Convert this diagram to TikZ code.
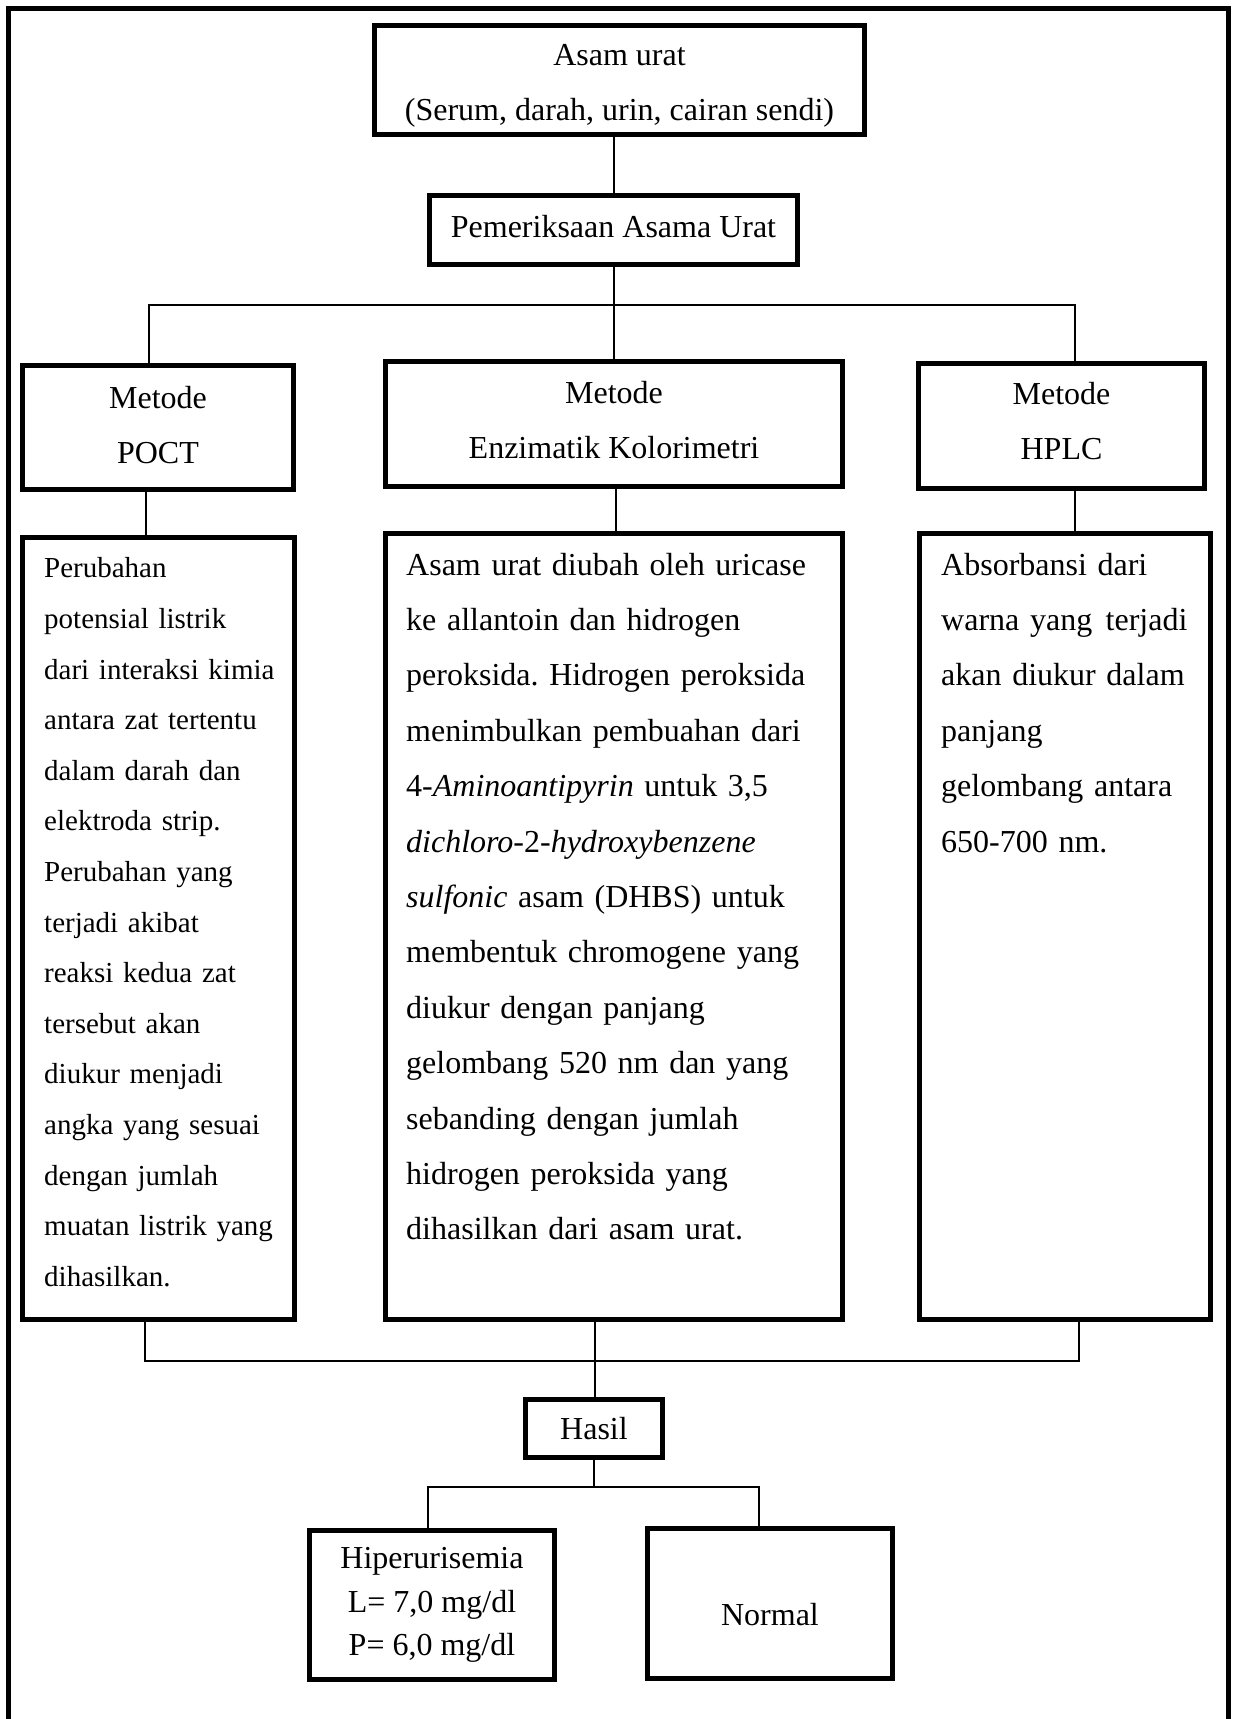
\documentclass[tikz,border=0pt]{standalone}
\usepackage{fontspec}
\setmainfont{Liberation Serif}
\newcommand{\shifted}[3]{\raisebox{#1}[\height][\depth]{\parbox{#2}{\centering #3}}}
\newcommand{\tightspace}{\spaceskip=0.17em plus 0.05em minus 0.02em\relax}
\frenchspacing
\begin{document}
\begin{tikzpicture}[x=1pt,y=-1pt,
  box/.style={draw, line width=5pt, inner sep=0pt, align=center, font=\fontsize{32}{55}\selectfont},
  conn/.style={line width=2pt},
  bodytxt/.style={inner sep=0pt, anchor=north west, align=left}]
\useasboundingbox (0,0) rectangle (1232,1719);
% outer frame (open at the bottom edge of the picture)
\draw[line width=5pt] (8.5,1719) -- (8.5,8) -- (1228,8) -- (1228,1719);

% top
\node[box, minimum width=490pt, minimum height=109pt] (src) at (619.5,80) {\shifted{-5.5pt}{480pt}{Asam urat\\(Serum, darah, urin, cairan sendi)}};
\node[box, minimum width=368pt, minimum height=69pt] (exam) at (613.5,230) {\raisebox{3pt}[\height][\depth]{Pemeriksaan Asama Urat}};

% method titles
\node[box, minimum width=271pt, minimum height=124pt] (poctT) at (158,427.5) {\shifted{2pt}{260pt}{Metode\\POCT}};
\node[box, minimum width=457pt, minimum height=125pt] (enzT) at (614,424) {\shifted{4pt}{440pt}{Metode\\Enzimatik Kolorimetri}};
\node[box, minimum width=286pt, minimum height=125pt] (hplcT) at (1061.5,426) {\shifted{4.5pt}{270pt}{Metode\\HPLC}};

% method bodies
\node[box, minimum width=272pt, minimum height=782pt] (poctB) at (158.5,928.5) {};
\node[box, minimum width=457pt, minimum height=786pt] (enzB) at (614,926.5) {};
\node[box, minimum width=291pt, minimum height=786pt] (hplcB) at (1065,926.5) {};

\node[bodytxt, text width=245pt, font=\fontsize{29}{50.6}\selectfont\tightspace] (poctX) at (44,542.3) {\strut Perubahan\\
potensial listrik\\
dari interaksi kimia\\
antara zat tertentu\\
dalam darah dan\\
elektroda strip.\\
Perubahan yang\\
terjadi akibat\\
reaksi kedua zat\\
tersebut akan\\
diukur menjadi\\
angka yang sesuai\\
dengan jumlah\\
muatan listrik yang\\
dihasilkan.};

\node[bodytxt, text width=432pt, font=\fontsize{32}{55.4}\selectfont\tightspace] (enzX) at (406,536.1) {\strut Asam urat diubah oleh uricase\\
ke allantoin dan hidrogen\\
peroksida. Hidrogen peroksida\\
menimbulkan pembuahan dari\\
4-\textit{Aminoantipyrin} untuk 3,5\\
\textit{dichloro}-2-\textit{hydroxybenzene}\\
\textit{sulfonic} asam (DHBS) untuk\\
membentuk chromogene yang\\
diukur dengan panjang\\
gelombang 520 nm dan yang\\
sebanding dengan jumlah\\
hidrogen peroksida yang\\
dihasilkan dari asam urat.};

\node[bodytxt, text width=264pt, font=\fontsize{32}{55.4}\selectfont\tightspace] (hplcX) at (941,536.1) {\strut Absorbansi dari\\
warna yang\hspace{0.42em}terjadi\\
akan diukur dalam\\
panjang\\
gelombang antara\\
650-700 nm.};

% results
\node[box, minimum width=137pt, minimum height=58pt] (hasil) at (594,1428.5) {Hasil};
\node[box, minimum width=245pt, minimum height=149pt, font=\fontsize{32}{43.5}\selectfont] (hiper) at (432,1605) {Hiperurisemia\\L= 7,0 mg/dl\\P= 6,0 mg/dl};
\node[box, minimum width=245pt, minimum height=150pt] (normal) at (770,1603.5) {\raisebox{-11pt}[\height][\depth]{Normal}};

% connector coordinates
\coordinate (j1) at (614,305);
\coordinate (l1) at (149,305);
\coordinate (r1) at (1075,305);
\coordinate (xp) at (146,0);
\coordinate (xe) at (616,0);
\coordinate (xh) at (1075,0);
\coordinate (j2) at (595,1361);
\coordinate (l2) at (145,1361);
\coordinate (r2) at (1079,1361);
\coordinate (j3) at (594,1487);
\coordinate (l3) at (428,1487);
\coordinate (r3) at (759,1487);

% connectors
\draw[conn] (src.south -| j1) -- (exam.north -| j1);
\draw[conn] (exam.south -| j1) -- (j1);
\draw[conn] (poctT.north -| l1) -- (l1) -- (r1) -- (hplcT.north -| r1);
\draw[conn] (j1) -- (enzT.north -| j1);
\draw[conn] (poctT.south -| xp) -- (poctB.north -| xp);
\draw[conn] (enzT.south -| xe) -- (enzB.north -| xe);
\draw[conn] (hplcT.south -| xh) -- (hplcB.north -| xh);
\draw[conn] (poctB.south -| l2) -- (l2) -- (r2) -- (hplcB.south -| r2);
\draw[conn] (enzB.south -| j2) -- (j2);
\draw[conn] (j2) -- (hasil.north -| j2);
\draw[conn] (hasil.south -| j3) -- (j3);
\draw[conn] (hiper.north -| l3) -- (l3) -- (r3) -- (normal.north -| r3);
\end{tikzpicture}
\end{document}
